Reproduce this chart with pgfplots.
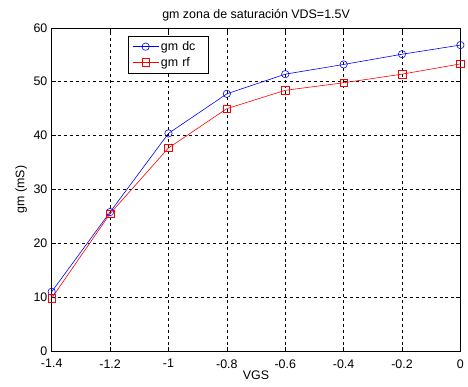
\documentclass[border=0pt]{standalone}
\usepackage{pgfplots}
\pgfplotsset{compat=1.18}
\usepackage{fontspec}
\setmainfont{Liberation Sans}
\begin{document}
\fontsize{12.5bp}{14bp}\selectfont
\begin{tikzpicture}
\begin{axis}[
  scale only axis,
  width=411bp, height=325bp,
  xmin=-1.4, xmax=0, ymin=0, ymax=60,
  xtick={-1.4,-1.2,-1,-0.8,-0.6,-0.4,-0.2,0},
  xticklabels={-1.4,-1.2,-1,-0.8,-0.6,-0.4,-0.2,0},
  ytick={0,10,20,30,40,50,60},
  /pgf/number format/assume math mode=true,
  tick align=inside,
  major tick length=4bp,
  tick style={black, line width=0.5bp},
  axis line style={black, line width=0.6bp},
  grid=major,
  major grid style={black, line width=0.5bp, dash pattern=on 3bp off 3bp},
  title={gm zona de saturación VDS=1.5V},
  title style={yshift=-4bp},
  xlabel={VGS},
  ylabel={gm (mS)},
  xticklabel style={yshift=-4bp},
  xlabel style={yshift=6bp},
  ylabel style={yshift=-2bp},
  tick label style={font=\fontsize{12.5bp}{14bp}\selectfont},
  every axis label/.append style={font=\fontsize{12.5bp}{14bp}\selectfont},
  legend style={at={(0.187,0.975)}, anchor=north west, draw=black, line width=0.6bp,
     font=\fontsize{12.5bp}{14bp}\selectfont, inner xsep=4bp, inner ysep=3bp, row sep=1bp,
     legend cell align=left},
  legend image code/.code={\draw[#1] (0bp,0bp) -- (26bp,0bp); \path[#1, solid] plot coordinates {(13bp,0bp)};},
  legend style={/tikz/every even column/.append style={column sep=4bp}},
  legend style={nodes={inner sep=2bp, text width=42bp, align=left}},
]
\addplot[blue, line width=0.6bp, mark=o, mark size=3.7bp, mark options={solid}]
  coordinates {(-1.4,11.0) (-1.2,25.8) (-1.0,40.4) (-0.8,47.75) (-0.6,51.4) (-0.4,53.2) (-0.2,55.1) (0,56.8)};
\addlegendentry{gm dc}
\addplot[red, line width=0.6bp, mark=square, mark size=3.8bp, mark options={solid}]
  coordinates {(-1.4,9.8) (-1.2,25.5) (-1.0,37.7) (-0.8,45.0) (-0.6,48.4) (-0.4,49.8) (-0.2,51.4) (0,53.3)};
\addlegendentry{gm rf}
\coordinate (sw) at (rel axis cs:0,0);
\coordinate (ne) at (rel axis cs:1,1);
\end{axis}
\path ([shift={(-52bp,-36bp)}]sw) rectangle ([shift={(5bp,28bp)}]ne);
\end{tikzpicture}
\end{document}
